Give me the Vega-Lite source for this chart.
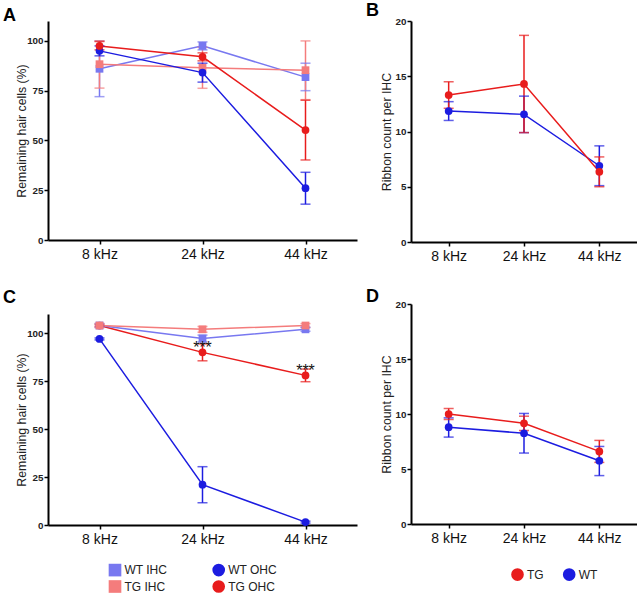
{
  "$schema": "https://vega.github.io/schema/vega-lite/v6.json",
  "background": "white",
  "padding": {"left": 3, "top": 2, "right": 0, "bottom": 0},
  "config": {
    "font": "Liberation Sans",
    "view": {"stroke": null},
    "axis": {"grid": false, "domainColor": "black", "domainWidth": 2, "tickColor": "black", "tickWidth": 1.5, "tickSize": 4},
    "axisX": {"labelFontSize": 14, "labelColor": "#111", "labelAngle": 0, "labelPadding": 3, "title": null},
    "axisY": {"labelFontSize": 9.8, "labelFontWeight": "bold", "labelColor": "#222", "labelPadding": 1, "titleFontSize": 12.3, "titleFontWeight": "normal", "titleColor": "#222", "titlePadding": 3},
    "title": {"fontSize": 18, "fontWeight": "bold", "anchor": "start", "frame": "group", "dx": -45, "baseline": "alphabetic", "color": "black"},
    "legend": {"labelFontSize": 12, "labelColor": "#222", "symbolSize": 160, "labelOffset": 3, "rowPadding": 3.5, "padding": 0, "symbolStrokeWidth": 0, "symbolOpacity": 1}
  },
  "datasets": {
    "hc_a": [
      {"khz": 8, "series": "WT IHC", "mean": 86, "lo": 72, "hi": 100},
      {"khz": 24, "series": "WT IHC", "mean": 97.5, "lo": 95.5, "hi": 99.5},
      {"khz": 44, "series": "WT IHC", "mean": 81.8, "lo": 75, "hi": 88.8},
      {"khz": 8, "series": "TG IHC", "mean": 88.3, "lo": 76.3, "hi": 100},
      {"khz": 24, "series": "TG IHC", "mean": 86.5, "lo": 76.2, "hi": 96.8},
      {"khz": 44, "series": "TG IHC", "mean": 85.3, "lo": 70.5, "hi": 100},
      {"khz": 8, "series": "WT OHC", "mean": 95, "lo": 92.5, "hi": 97.5},
      {"khz": 24, "series": "WT OHC", "mean": 84.1, "lo": 79.3, "hi": 88.8},
      {"khz": 44, "series": "WT OHC", "mean": 26, "lo": 18, "hi": 34},
      {"khz": 8, "series": "TG OHC", "mean": 97.5, "lo": 95.5, "hi": 99.7},
      {"khz": 24, "series": "TG OHC", "mean": 92, "lo": 90, "hi": 94},
      {"khz": 44, "series": "TG OHC", "mean": 55.2, "lo": 40.2, "hi": 70.2}
    ],
    "rb_b": [
      {"khz": 8, "group": "WT", "mean": 11.85, "lo": 11.0, "hi": 12.7},
      {"khz": 24, "group": "WT", "mean": 11.55, "lo": 9.9, "hi": 13.2},
      {"khz": 44, "group": "WT", "mean": 6.9, "lo": 5.1, "hi": 8.7},
      {"khz": 8, "group": "TG", "mean": 13.3, "lo": 12.1, "hi": 14.5},
      {"khz": 24, "group": "TG", "mean": 14.3, "lo": 9.9, "hi": 18.7},
      {"khz": 44, "group": "TG", "mean": 6.35, "lo": 5.0, "hi": 7.7}
    ],
    "hc_c": [
      {"khz": 8, "series": "WT OHC", "mean": 97, "lo": 96.5, "hi": 97.5, "sig": ""},
      {"khz": 24, "series": "WT OHC", "mean": 21, "lo": 11.6, "hi": 30.4, "sig": ""},
      {"khz": 44, "series": "WT OHC", "mean": 1.5, "lo": 1, "hi": 2, "sig": ""},
      {"khz": 8, "series": "TG OHC", "mean": 104, "lo": 103.5, "hi": 104.5, "sig": ""},
      {"khz": 24, "series": "TG OHC", "mean": 90, "lo": 85.6, "hi": 94.4, "sig": "***"},
      {"khz": 44, "series": "TG OHC", "mean": 78, "lo": 74.7, "hi": 81.3, "sig": "***"},
      {"khz": 8, "series": "WT IHC", "mean": 104, "lo": 103, "hi": 105, "sig": ""},
      {"khz": 24, "series": "WT IHC", "mean": 97.2, "lo": 95.5, "hi": 99, "sig": ""},
      {"khz": 44, "series": "WT IHC", "mean": 102, "lo": 101, "hi": 103, "sig": ""},
      {"khz": 8, "series": "TG IHC", "mean": 104, "lo": 103, "hi": 105, "sig": ""},
      {"khz": 24, "series": "TG IHC", "mean": 102, "lo": 100.5, "hi": 103.5, "sig": ""},
      {"khz": 44, "series": "TG IHC", "mean": 104, "lo": 103, "hi": 105, "sig": ""}
    ],
    "rb_d": [
      {"khz": 8, "group": "WT", "mean": 8.8, "lo": 7.9, "hi": 9.65},
      {"khz": 24, "group": "WT", "mean": 8.25, "lo": 6.45, "hi": 10.05},
      {"khz": 44, "group": "WT", "mean": 5.75, "lo": 4.4, "hi": 7.05},
      {"khz": 8, "group": "TG", "mean": 10.0, "lo": 9.5, "hi": 10.5},
      {"khz": 24, "group": "TG", "mean": 9.15, "lo": 8.5, "hi": 9.8},
      {"khz": 44, "group": "TG", "mean": 6.6, "lo": 5.6, "hi": 7.6}
    ]
  },
  "spacing": 9,
  "resolve": {"scale": {"color": "independent", "shape": "independent", "stroke": "independent", "fill": "independent"}, "legend": {"color": "independent", "shape": "independent"}},
  "hconcat": [
    {
      "spacing": 27,
      "resolve": {"scale": {"color": "independent", "shape": "independent", "stroke": "independent", "fill": "independent"}, "legend": {"color": "independent", "shape": "independent"}},
      "vconcat": [
        {
          "title": {"text": "A", "offset": -4},
          "width": 309, "height": 219,
          "data": {"name": "hc_a"},
          "encoding": {
            "x": {"field": "khz", "type": "ordinal", "scale": {"type": "point", "padding": 0.5}, "axis": {"labelExpr": "datum.value + ' kHz'"}}
          },
          "layer": [
            {"mark": {"type": "line", "strokeWidth": 1.5}, "encoding": {
              "y": {"field": "mean", "type": "quantitative", "scale": {"domain": [0, 110], "nice": false}, "axis": {"values": [0, 25, 50, 75, 100], "title": "Remaining hair cells (%)", "titlePadding": -2}},
              "stroke": {"field": "series", "type": "nominal", "scale": {"domain": ["TG OHC", "TG IHC", "WT OHC", "WT IHC"], "range": ["#e81c1c", "#f47c7c", "#1c1ce0", "#7878f0"]}, "legend": null}}},
            {"mark": {"type": "rule", "strokeWidth": 1.5}, "encoding": {
              "y": {"field": "lo", "type": "quantitative", "axis": {"values": [0, 25, 50, 75, 100], "title": "Remaining hair cells (%)", "titlePadding": -2}}, "y2": {"field": "hi"},
              "stroke": {"field": "series", "type": "nominal", "scale": {"domain": ["TG OHC", "TG IHC", "WT OHC", "WT IHC"], "range": ["#e81c1c", "#f47c7c", "#1c1ce0", "#7878f0"]}, "legend": null}}},
            {"mark": {"type": "tick", "thickness": 1.5, "size": 10, "orient": "horizontal"}, "encoding": {
              "y": {"field": "lo", "type": "quantitative", "axis": {"values": [0, 25, 50, 75, 100], "title": "Remaining hair cells (%)", "titlePadding": -2}},
              "fill": {"field": "series", "type": "nominal", "scale": {"domain": ["TG OHC", "TG IHC", "WT OHC", "WT IHC"], "range": ["#e81c1c", "#f47c7c", "#1c1ce0", "#7878f0"]}, "legend": null}}},
            {"mark": {"type": "tick", "thickness": 1.5, "size": 10, "orient": "horizontal"}, "encoding": {
              "y": {"field": "hi", "type": "quantitative", "axis": {"values": [0, 25, 50, 75, 100], "title": "Remaining hair cells (%)", "titlePadding": -2}},
              "fill": {"field": "series", "type": "nominal", "scale": {"domain": ["TG OHC", "TG IHC", "WT OHC", "WT IHC"], "range": ["#e81c1c", "#f47c7c", "#1c1ce0", "#7878f0"]}, "legend": null}}},
            {"mark": {"type": "point", "filled": true, "opacity": 1, "size": 60}, "encoding": {
              "y": {"field": "mean", "type": "quantitative", "axis": {"values": [0, 25, 50, 75, 100], "title": "Remaining hair cells (%)", "titlePadding": -2}},
              "color": {"field": "series", "type": "nominal", "scale": {"domain": ["WT IHC", "WT OHC", "TG IHC", "TG OHC"], "range": ["#7878f0", "#1c1ce0", "#f47c7c", "#e81c1c"]}, "legend": null},
              "shape": {"field": "series", "type": "nominal", "scale": {"domain": ["WT IHC", "WT OHC", "TG IHC", "TG OHC"], "range": ["square", "circle", "square", "circle"]}, "legend": null}}}
          ]
        },
        {
          "title": {"text": "C", "offset": 7},
          "width": 309, "height": 211,
          "data": {"name": "hc_c"},
          "encoding": {
            "x": {"field": "khz", "type": "ordinal", "scale": {"type": "point", "padding": 0.5}, "axis": {"labelExpr": "datum.value + ' kHz'"}}
          },
          "layer": [
            {"mark": {"type": "line", "strokeWidth": 1.5}, "encoding": {
              "y": {"field": "mean", "type": "quantitative", "scale": {"domain": [0, 110], "nice": false}, "axis": {"values": [0, 25, 50, 75, 100], "title": "Remaining hair cells (%)", "titlePadding": -2}},
              "stroke": {"field": "series", "type": "nominal", "scale": {"domain": ["TG OHC", "TG IHC", "WT OHC", "WT IHC"], "range": ["#e81c1c", "#f47c7c", "#1c1ce0", "#7878f0"]}, "legend": null}}},
            {"mark": {"type": "rule", "strokeWidth": 1.5}, "encoding": {
              "y": {"field": "lo", "type": "quantitative", "axis": {"values": [0, 25, 50, 75, 100], "title": "Remaining hair cells (%)", "titlePadding": -2}}, "y2": {"field": "hi"},
              "stroke": {"field": "series", "type": "nominal", "scale": {"domain": ["TG OHC", "TG IHC", "WT OHC", "WT IHC"], "range": ["#e81c1c", "#f47c7c", "#1c1ce0", "#7878f0"]}, "legend": null}}},
            {"mark": {"type": "tick", "thickness": 1.5, "size": 10, "orient": "horizontal"}, "encoding": {
              "y": {"field": "lo", "type": "quantitative", "axis": {"values": [0, 25, 50, 75, 100], "title": "Remaining hair cells (%)", "titlePadding": -2}},
              "fill": {"field": "series", "type": "nominal", "scale": {"domain": ["TG OHC", "TG IHC", "WT OHC", "WT IHC"], "range": ["#e81c1c", "#f47c7c", "#1c1ce0", "#7878f0"]}, "legend": null}}},
            {"mark": {"type": "tick", "thickness": 1.5, "size": 10, "orient": "horizontal"}, "encoding": {
              "y": {"field": "hi", "type": "quantitative", "axis": {"values": [0, 25, 50, 75, 100], "title": "Remaining hair cells (%)", "titlePadding": -2}},
              "fill": {"field": "series", "type": "nominal", "scale": {"domain": ["TG OHC", "TG IHC", "WT OHC", "WT IHC"], "range": ["#e81c1c", "#f47c7c", "#1c1ce0", "#7878f0"]}, "legend": null}}},
            {"mark": {"type": "point", "filled": true, "opacity": 1, "size": 60}, "encoding": {
              "y": {"field": "mean", "type": "quantitative", "axis": {"values": [0, 25, 50, 75, 100], "title": "Remaining hair cells (%)", "titlePadding": -2}},
              "color": {"field": "series", "type": "nominal", "scale": {"domain": ["WT IHC", "WT OHC", "TG IHC", "TG OHC"], "range": ["#7878f0", "#1c1ce0", "#f47c7c", "#e81c1c"]}, "legend": {"title": null, "orient": "none", "legendX": 60.5, "legendY": 249.5, "columns": 2, "direction": "horizontal", "columnPadding": 44.7}},
              "shape": {"field": "series", "type": "nominal", "scale": {"domain": ["WT IHC", "WT OHC", "TG IHC", "TG OHC"], "range": ["square", "circle", "square", "circle"]}, "legend": {"title": null, "orient": "none", "legendX": 60.5, "legendY": 249.5, "columns": 2, "direction": "horizontal", "columnPadding": 44.7}}}},
            {"mark": {"type": "text", "fontSize": 16, "baseline": "alphabetic", "align": "center", "color": "#111", "dy": 1}, "encoding": {
              "y": {"field": "mean", "type": "quantitative", "axis": {"values": [0, 25, 50, 75, 100], "title": "Remaining hair cells (%)", "titlePadding": -2}},
              "text": {"field": "sig"}}}
          ]
        }
      ]
    },
    {
      "spacing": 25,
      "resolve": {"scale": {"color": "independent", "shape": "independent", "stroke": "independent", "fill": "independent"}, "legend": {"color": "independent", "shape": "independent"}},
      "vconcat": [
        {
          "title": {"text": "B", "offset": -4},
          "width": 226, "height": 221,
          "data": {"name": "rb_b"},
          "encoding": {
            "x": {"field": "khz", "type": "ordinal", "scale": {"type": "point", "padding": 0.5}, "axis": {"labelExpr": "datum.value + ' kHz'"}}
          },
          "layer": [
            {"mark": {"type": "line", "strokeWidth": 1.5}, "encoding": {
              "y": {"field": "mean", "type": "quantitative", "scale": {"domain": [0, 20], "nice": false}, "axis": {"values": [0, 5, 10, 15, 20], "title": "Ribbon count per IHC", "titlePadding": 2}},
              "stroke": {"field": "group", "type": "nominal", "scale": {"domain": ["WT", "TG"], "range": ["#1c1ce0", "#e81c1c"]}, "legend": null}}},
            {"mark": {"type": "rule", "strokeWidth": 1.5}, "encoding": {
              "y": {"field": "lo", "type": "quantitative", "axis": {"values": [0, 5, 10, 15, 20], "title": "Ribbon count per IHC", "titlePadding": 2}}, "y2": {"field": "hi"},
              "stroke": {"field": "group", "type": "nominal", "scale": {"domain": ["WT", "TG"], "range": ["#1c1ce0", "#e81c1c"]}, "legend": null}}},
            {"mark": {"type": "tick", "thickness": 1.5, "size": 10, "orient": "horizontal"}, "encoding": {
              "y": {"field": "lo", "type": "quantitative", "axis": {"values": [0, 5, 10, 15, 20], "title": "Ribbon count per IHC", "titlePadding": 2}},
              "fill": {"field": "group", "type": "nominal", "scale": {"domain": ["WT", "TG"], "range": ["#1c1ce0", "#e81c1c"]}, "legend": null}}},
            {"mark": {"type": "tick", "thickness": 1.5, "size": 10, "orient": "horizontal"}, "encoding": {
              "y": {"field": "hi", "type": "quantitative", "axis": {"values": [0, 5, 10, 15, 20], "title": "Ribbon count per IHC", "titlePadding": 2}},
              "fill": {"field": "group", "type": "nominal", "scale": {"domain": ["WT", "TG"], "range": ["#1c1ce0", "#e81c1c"]}, "legend": null}}},
            {"mark": {"type": "point", "filled": true, "opacity": 1, "size": 60, "shape": "circle"}, "encoding": {
              "y": {"field": "mean", "type": "quantitative", "axis": {"values": [0, 5, 10, 15, 20], "title": "Ribbon count per IHC", "titlePadding": 2}},
              "color": {"field": "group", "type": "nominal", "scale": {"domain": ["TG", "WT"], "range": ["#e81c1c", "#1c1ce0"]}, "legend": null}}}
          ]
        },
        {
          "title": {"text": "D", "offset": -7},
          "width": 226, "height": 220,
          "data": {"name": "rb_d"},
          "encoding": {
            "x": {"field": "khz", "type": "ordinal", "scale": {"type": "point", "padding": 0.5}, "axis": {"labelExpr": "datum.value + ' kHz'"}}
          },
          "layer": [
            {"mark": {"type": "line", "strokeWidth": 1.5}, "encoding": {
              "y": {"field": "mean", "type": "quantitative", "scale": {"domain": [0, 20], "nice": false}, "axis": {"values": [0, 5, 10, 15, 20], "title": "Ribbon count per IHC", "titlePadding": 2}},
              "stroke": {"field": "group", "type": "nominal", "scale": {"domain": ["WT", "TG"], "range": ["#1c1ce0", "#e81c1c"]}, "legend": null}}},
            {"mark": {"type": "rule", "strokeWidth": 1.5}, "encoding": {
              "y": {"field": "lo", "type": "quantitative", "axis": {"values": [0, 5, 10, 15, 20], "title": "Ribbon count per IHC", "titlePadding": 2}}, "y2": {"field": "hi"},
              "stroke": {"field": "group", "type": "nominal", "scale": {"domain": ["WT", "TG"], "range": ["#1c1ce0", "#e81c1c"]}, "legend": null}}},
            {"mark": {"type": "tick", "thickness": 1.5, "size": 10, "orient": "horizontal"}, "encoding": {
              "y": {"field": "lo", "type": "quantitative", "axis": {"values": [0, 5, 10, 15, 20], "title": "Ribbon count per IHC", "titlePadding": 2}},
              "fill": {"field": "group", "type": "nominal", "scale": {"domain": ["WT", "TG"], "range": ["#1c1ce0", "#e81c1c"]}, "legend": null}}},
            {"mark": {"type": "tick", "thickness": 1.5, "size": 10, "orient": "horizontal"}, "encoding": {
              "y": {"field": "hi", "type": "quantitative", "axis": {"values": [0, 5, 10, 15, 20], "title": "Ribbon count per IHC", "titlePadding": 2}},
              "fill": {"field": "group", "type": "nominal", "scale": {"domain": ["WT", "TG"], "range": ["#1c1ce0", "#e81c1c"]}, "legend": null}}},
            {"mark": {"type": "point", "filled": true, "opacity": 1, "size": 60, "shape": "circle"}, "encoding": {
              "y": {"field": "mean", "type": "quantitative", "axis": {"values": [0, 5, 10, 15, 20], "title": "Ribbon count per IHC", "titlePadding": 2}},
              "color": {"field": "group", "type": "nominal", "scale": {"domain": ["TG", "WT"], "range": ["#e81c1c", "#1c1ce0"]}, "legend": {"title": null, "orient": "none", "legendX": 100, "legendY": 264, "columns": 2, "direction": "horizontal", "columnPadding": 18.7, "symbolType": "circle"}}}}
          ]
        }
      ]
    }
  ]
}
